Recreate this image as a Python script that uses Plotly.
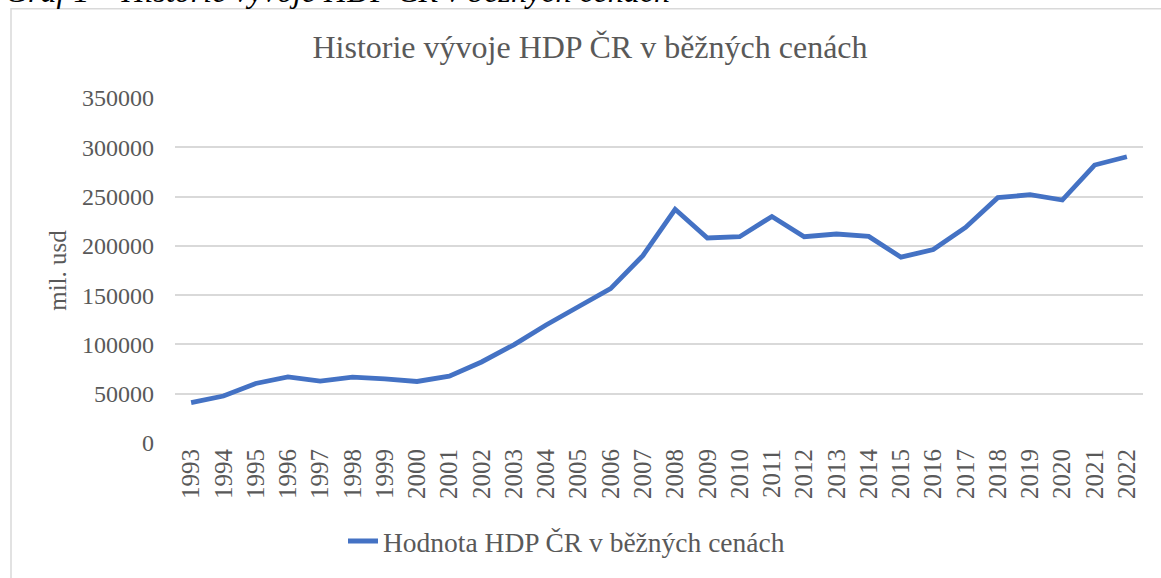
import plotly.graph_objects as go

years = [str(y) for y in range(1993, 2023)]
hdp = [41000, 47700, 60400, 67100, 62700, 66800, 65100, 62400, 67800, 82200,
       99600, 119700, 138200, 156600, 190100, 237100, 208000, 209300, 229800, 209300,
       212000, 209600, 188500, 196200, 218700, 248900, 251900, 246500, 282000, 290400]
y_ticks = [0, 50000, 100000, 150000, 200000, 250000, 300000, 350000]

title_text = "Historie vývoje HDP ČR v běžných cenách"
series_name = "Hodnota HDP ČR v běžných cenách"
caption_text = "Graf 1 – Historie vývoje HDP ČR v běžných cenách"
y_title = "mil. usd"

FONT = "Liberation Serif"
GREY = "#595959"
W, H = 1161, 578
L, R, T, B = 175, 18, 98, 132
pw, ph = W - L - R, H - T - B

def px_x(x):
    return (x - L) / pw

def px_y(y):
    return 1 - (y - T) / ph

fig = go.Figure()
fig.add_trace(go.Scatter(
    x=years, y=hdp, mode="lines", name=series_name,
    line=dict(color="#4472C4", width=4.8),
))

fig.update_layout(
    width=W, height=H,
    margin=dict(l=L, r=R, t=T, b=B),
    paper_bgcolor="white", plot_bgcolor="white",
    font=dict(family=FONT, color=GREY, size=24),
    title=dict(text=title_text, x=590 / W, xanchor="center", y=1 - 47 / H, yanchor="middle",
               font=dict(family=FONT, size=32, color=GREY)),
    showlegend=True,
    legend=dict(orientation="h", x=px_x(343), xanchor="left", y=px_y(545), yanchor="middle",
                font=dict(family=FONT, size=27.5, color=GREY), bgcolor="rgba(0,0,0,0)"),
    xaxis=dict(type="category", range=[-0.5, len(years) - 0.5], tickangle=-90,
               showgrid=False, showline=False, ticks="", zeroline=False,
               tickfont=dict(family=FONT, size=25, color=GREY)),
    yaxis=dict(range=[0, 350000], tickvals=y_ticks, ticktext=[str(v) for v in y_ticks],
               showgrid=True, gridcolor="#D9D9D9", gridwidth=1.5, zeroline=False,
               showline=False, ticks="", ticklabelstandoff=20,
               tickfont=dict(family=FONT, size=24, color=GREY),
               title=dict(text=y_title, font=dict(family=FONT, size=25, color=GREY), standoff=8)),
    shapes=[dict(type="rect", xref="paper", yref="paper",
                 x0=px_x(11), x1=px_x(1175), y0=px_y(590), y1=px_y(8),
                 line=dict(color="#D9D9D9", width=1.5), fillcolor="rgba(0,0,0,0)", layer="below")],
    annotations=[dict(text="<i>" + caption_text + "</i>", xref="paper", yref="paper",
                      x=px_x(3), xanchor="left", y=px_y(-10), yanchor="middle",
                      showarrow=False, font=dict(family=FONT, size=32, color="black"))],
)

fig.write_html("out.html", config={"displayModeBar": False},
               post_script="document.body.style.margin='0';")
